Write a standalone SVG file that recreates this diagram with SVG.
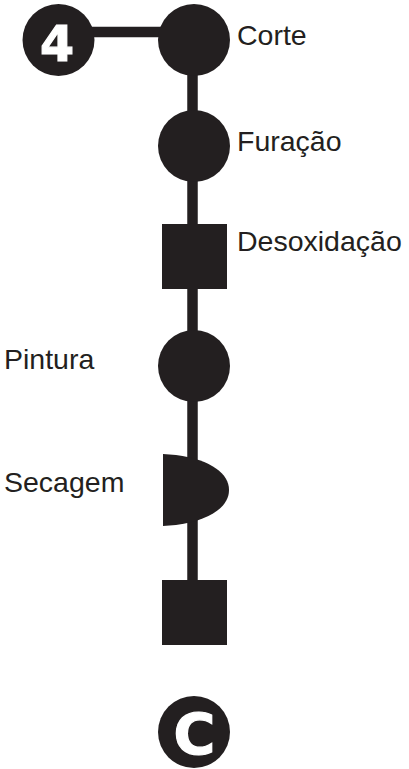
<svg xmlns="http://www.w3.org/2000/svg" width="409" height="769" viewBox="0 0 409 769">
<style>
.sym{fill:#231f20}
.ln{stroke:#231f20;stroke-width:10.5;fill:none}
.lbl{font-family:"Liberation Sans",Arial,sans-serif;font-size:28.5px;fill:#231f20}
.big{font-family:"DejaVu Sans",sans-serif;font-weight:bold;fill:#fff;text-anchor:middle;stroke:#fff;stroke-width:1.2}
</style>
<rect width="409" height="769" fill="#fff"/>
<g id="connectors">
<line class="ln" x1="58" y1="32" x2="194" y2="32"/>
<line class="ln" x1="192.5" y1="40" x2="192.5" y2="600"/>
</g>
<g id="start4">
<circle class="sym" cx="58.5" cy="40" r="36"/>
<text class="big" x="57" y="61" font-size="49">4</text>
</g>
<g id="corte">
<circle class="sym" cx="194" cy="40" r="36"/>
<text class="lbl" x="237" y="45">Corte</text>
</g>
<g id="furacao">
<circle class="sym" cx="194" cy="146" r="36"/>
<text class="lbl" x="237" y="151">Furação</text>
</g>
<g id="desoxidacao">
<rect class="sym" x="162" y="224" width="65" height="65"/>
<text class="lbl" x="237" y="251">Desoxidação</text>
</g>
<g id="pintura">
<circle class="sym" cx="194" cy="366" r="36"/>
<text class="lbl" x="4" y="369">Pintura</text>
</g>
<g id="secagem">
<path class="sym" d="M163,454 L176,455 C212,460 229,474 229,490 C229,506 212,520 176,525 L163,526 Z"/>
<text class="lbl" x="4" y="492">Secagem</text>
</g>
<g id="final">
<rect class="sym" x="162" y="580" width="65" height="65"/>
</g>
<g id="endC">
<circle class="sym" cx="194" cy="732" r="36"/>
<text class="big" x="194.5" y="754.5" font-size="57">C</text>
</g>
</svg>
